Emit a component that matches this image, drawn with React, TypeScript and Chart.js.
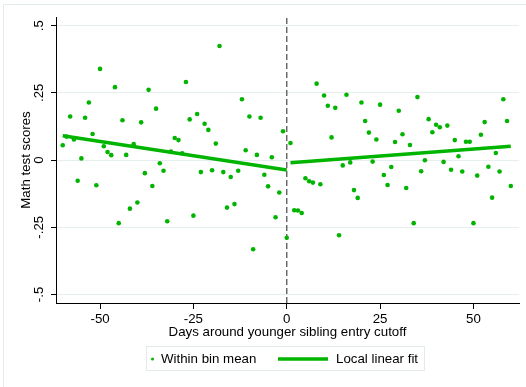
import React, { useEffect, useRef } from "react";
import { Chart, registerables } from "chart.js";

Chart.register(...registerables);

// ---- data ----
const days: number[] = [
  -60, -59, -58, -57, -56, -55, -54, -53, -52, -51, -50, -49, -48, -47, -46, -45, -44, -43, -42, -41,
  -40, -39, -38, -37, -36, -35, -34, -33, -32, -31, -30, -29, -28, -27, -26, -25, -24, -23, -22, -21,
  -20, -19, -18, -17, -16, -15, -14, -13, -12, -11, -10, -9, -8, -7, -6, -5, -4, -3, -2, -1,
  0, 1, 2, 3, 4, 5, 6, 7, 8, 9, 10, 11, 12, 13, 14, 15, 16, 17, 18, 19,
  20, 21, 22, 23, 24, 25, 26, 27, 28, 29, 30, 31, 32, 33, 34, 35, 36, 37, 38, 39,
  40, 41, 42, 43, 44, 45, 46, 47, 48, 49, 50, 51, 52, 53, 54, 55, 56, 57, 58, 59, 60,
];
const binMeans: number[] = [
  0.055, 0.087, 0.162, 0.076, -0.077, 0.006, 0.157, 0.214, 0.097, -0.094,
  0.339, 0.051, 0.030, 0.018, 0.271, -0.235, 0.148, 0.019, -0.181, 0.059,
  -0.158, 0.140, -0.049, 0.261, -0.097, 0.191, -0.012, -0.040, -0.228, 0.031,
  0.082, 0.074, 0.025, 0.290, 0.151, -0.207, 0.171, -0.045, 0.135, 0.112,
  -0.038, 0.061, 0.424, -0.045, -0.177, -0.063, -0.164, -0.040, 0.226, 0.036,
  0.162, -0.332, 0.019, 0.157, -0.055, -0.098, 0.010, -0.213, -0.121, 0.107,
  -0.289, 0.063, -0.187, -0.188, -0.197, -0.068, -0.079, -0.084, 0.284, -0.090,
  0.240, 0.202, 0.084, 0.194, -0.280, -0.020, 0.243, -0.009, -0.112, -0.141,
  0.214, 0.145, 0.102, -0.006, 0.076, 0.206, -0.056, -0.093, -0.026, 0.067,
  0.183, 0.096, -0.104, 0.056, -0.235, 0.234, -0.042, -0.001, 0.152, 0.103,
  0.131, 0.122, -0.007, 0.128, -0.036, 0.074, 0.014, -0.043, 0.068, 0.068,
  -0.235, -0.058, 0.094, 0.141, -0.025, -0.140, 0.026, -0.043, 0.226, 0.145, -0.097,
];
const fitLeftX: number[] = [-60, 0];
const fitLeftY: number[] = [0.09, -0.037];
const fitRightX: number[] = [1, 60];
const fitRightY: number[] = [-0.01, 0.051];
const cutoffDay = 0;

const xTicks: number[] = [-50, -25, 0, 25, 50];
const yTicks: number[] = [-0.5, -0.25, 0, 0.25, 0.5];
const yTickLabels: string[] = ["-.5", "-.25", "0", ".25", ".5"];

const X_MIN = -61.8;
const X_MAX = 62.2;
const Y_MIN = -0.532;
const Y_MAX = 0.532;

const seriesLabels: string[] = ["Within bin mean", "Local linear fit"];
const xTitle = "Days around younger sibling entry cutoff";
const yTitle = "Math test scores";

const GREEN = "rgb(0,180,0)";
const FONT = "'Liberation Sans', Arial, sans-serif";
const FS = 13.3;

const decorPlugin = {
  id: "decor",
  beforeDraw(chart: any) {
    const ctx = chart.ctx;
    ctx.save();
    ctx.fillStyle = "#ffffff";
    ctx.fillRect(0, 0, chart.width, chart.height);
    ctx.strokeStyle = "#e4ebed";
    ctx.lineWidth = 1;
    ctx.beginPath();
    ctx.moveTo(3.5, chart.height);
    ctx.lineTo(3.5, 4.5);
    ctx.lineTo(chart.width, 4.5);
    ctx.stroke();
    ctx.restore();
  },
  afterDraw(chart: any) {
    const ctx = chart.ctx;
    const yScale = chart.scales.y;
    ctx.save();
    // rotated y tick labels
    ctx.fillStyle = "#000";
    ctx.font = `${FS}px ${FONT}`;
    ctx.textAlign = "center";
    ctx.textBaseline = "middle";
    yTicks.forEach((v, i) => {
      const py = yScale.getPixelForValue(v);
      ctx.save();
      ctx.translate(39.5, py);
      ctx.rotate(-Math.PI / 2);
      ctx.fillText(yTickLabels[i], 0, 0);
      ctx.restore();
    });
    // legend
    const bx = 146.5, by = 346.5, bw = 278, bh = 24;
    ctx.fillStyle = "#ffffff";
    ctx.fillRect(bx, by, bw, bh);
    ctx.strokeStyle = "#e3eaec";
    ctx.lineWidth = 1;
    ctx.strokeRect(bx, by, bw, bh);
    const cy = 359;
    ctx.fillStyle = GREEN;
    ctx.beginPath();
    ctx.arc(152.5, cy, 1.5, 0, Math.PI * 2);
    ctx.fill();
    ctx.fillStyle = "#000";
    ctx.textAlign = "left";
    ctx.fillText(chart.data.datasets[0].label, 161, cy + 0.5);
    ctx.strokeStyle = GREEN;
    ctx.lineWidth = 3.5;
    ctx.beginPath();
    ctx.moveTo(278, cy);
    ctx.lineTo(328, cy);
    ctx.stroke();
    ctx.fillText(chart.data.datasets[1].label, 336, cy + 0.5);
    ctx.restore();
  },
};

export default function App() {
  const ref = useRef<HTMLCanvasElement | null>(null);
  useEffect(() => {
    if (!ref.current) return;
    Chart.defaults.font.family = FONT;
    const chart = new Chart(ref.current, {
      type: "scatter",
      data: {
        datasets: [
          {
            type: "scatter",
            label: seriesLabels[0],
            data: days.map((d, i) => ({ x: d, y: binMeans[i] })),
            pointRadius: 2.3,
            pointHoverRadius: 2.3,
            backgroundColor: GREEN,
            borderWidth: 0,
            order: 1,
          } as any,
          {
            type: "line",
            label: seriesLabels[1],
            data: fitLeftX.map((x, i) => ({ x, y: fitLeftY[i] })),
            borderColor: GREEN,
            borderWidth: 3.5,
            pointRadius: 0,
            showLine: true,
            order: 0,
          } as any,
          {
            type: "line",
            label: seriesLabels[1] + " (right)",
            data: fitRightX.map((x, i) => ({ x, y: fitRightY[i] })),
            borderColor: GREEN,
            borderWidth: 3.5,
            pointRadius: 0,
            showLine: true,
            order: 0,
          } as any,
          {
            type: "line",
            label: "cutoff",
            data: [
              { x: cutoffDay, y: Y_MIN },
              { x: cutoffDay, y: Y_MAX },
            ],
            borderColor: "#555555",
            borderWidth: 1.3,
            borderDash: [6, 3],
            pointRadius: 0,
            showLine: true,
            order: 2,
          } as any,
        ],
      },
      options: {
        responsive: false,
        animation: false,
        events: [],
        layout: { padding: { top: 17, right: 7, left: 0, bottom: 0 } },
        plugins: {
          legend: { display: false },
          tooltip: { enabled: false },
          title: { display: false },
        },
        scales: {
          x: {
            type: "linear",
            min: X_MIN,
            max: X_MAX,
            afterBuildTicks: (s: any) => {
              s.ticks = xTicks.map((v) => ({ value: v }));
            },
            afterFit: (s: any) => {
              s.height = 84;
            },
            ticks: {
              color: "#000",
              font: { size: FS, family: FONT },
              padding: 2,
              maxRotation: 0,
              callback: (v: any) => String(v),
            },
            grid: {
              display: true,
              drawOnChartArea: false,
              drawTicks: true,
              tickLength: 6,
              tickColor: "#000",
              tickWidth: 1,
            },
            border: { display: true, color: "#000", width: 1 },
            title: {
              display: true,
              text: xTitle,
              color: "#000",
              font: { size: FS, family: FONT },
              padding: { top: 0, bottom: 46.5 },
            },
          },
          y: {
            type: "linear",
            min: Y_MIN,
            max: Y_MAX,
            afterBuildTicks: (s: any) => {
              s.ticks = yTicks.map((v) => ({ value: v }));
            },
            afterFit: (s: any) => {
              s.width = 56;
            },
            ticks: { display: false },
            grid: {
              display: true,
              drawOnChartArea: true,
              color: "#e6eef0",
              lineWidth: 1,
              drawTicks: true,
              tickLength: 5,
              tickColor: "#000",
              tickWidth: 1,
            },
            border: { display: true, color: "#000", width: 1 },
            title: {
              display: true,
              text: yTitle,
              color: "#000",
              font: { size: FS, family: FONT },
              padding: { top: 18, bottom: 0 },
            },
          },
        },
      } as any,
      plugins: [decorPlugin],
    });
    return () => chart.destroy();
  }, []);
  return (
    <div style={{ position: "absolute", left: 0, top: 0, width: 526, height: 387 }}>
      <canvas ref={ref} width={526} height={387} style={{ width: 526, height: 387 }} />
    </div>
  );
}
